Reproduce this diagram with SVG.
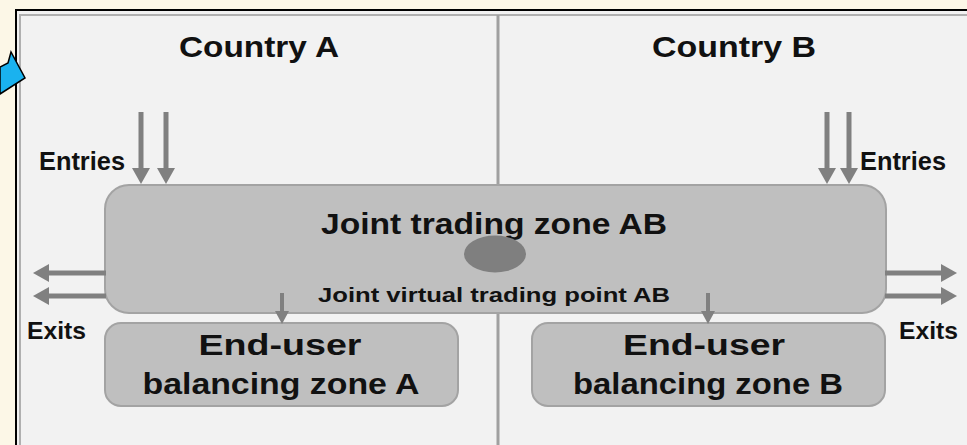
<svg xmlns="http://www.w3.org/2000/svg" width="967" height="445" viewBox="0 0 967 445">
  <defs>
    <style>
      .t { font-family: "Liberation Sans", Arial, sans-serif; font-weight: bold; fill: #111111; }
      .conn { stroke: #808080; fill: none; }
      .zone { fill: #bfbfbf; stroke: #a3a3a3; stroke-width: 2; }
    </style>
    <marker id="ah" markerUnits="userSpaceOnUse" markerWidth="16" markerHeight="18" refX="6" refY="9" orient="auto">
      <path d="M0,0 L16,9 L0,18 Z" fill="#808080"/>
    </marker>
    <marker id="ahs" markerUnits="userSpaceOnUse" markerWidth="13" markerHeight="14" refX="3" refY="7" orient="auto">
      <path d="M0,0 L13,7 L0,14 Z" fill="#808080"/>
    </marker>
  </defs>

  <rect x="0" y="0" width="967" height="445" fill="#fcf7e7"/>

  <g id="frame">
    <rect x="16" y="10" width="960" height="450" fill="#f2f2f2" stroke="#000" stroke-width="2"/>
    <rect x="20" y="15" width="955" height="440" fill="none" stroke="#b0b0b0" stroke-width="2"/>
    <line x1="498" y1="15" x2="498" y2="445" stroke="#a0a0a0" stroke-width="3"/>
  </g>

  <g id="pointer">
    <polygon points="0,67 8,63 11,52 25,78 0,94" fill="#1ab2ef" stroke="#000" stroke-width="1.5" stroke-linejoin="miter"/>
  </g>

  <g id="labels">
    <text class="t" x="259" y="57" font-size="30" text-anchor="middle" textLength="160" lengthAdjust="spacingAndGlyphs">Country A</text>
    <text class="t" x="734" y="57" font-size="30" text-anchor="middle" textLength="164" lengthAdjust="spacingAndGlyphs">Country B</text>
    <text class="t" x="39" y="170" font-size="25" textLength="86" lengthAdjust="spacingAndGlyphs">Entries</text>
    <text class="t" x="860" y="170" font-size="25" textLength="86" lengthAdjust="spacingAndGlyphs">Entries</text>
    <text class="t" x="27" y="339" font-size="24" textLength="59" lengthAdjust="spacingAndGlyphs">Exits</text>
    <text class="t" x="899" y="339" font-size="24" textLength="59" lengthAdjust="spacingAndGlyphs">Exits</text>
  </g>

  <g id="joint-zone">
    <rect class="zone" x="105" y="185" width="781" height="128" rx="24" ry="24"/>
    <text class="t" x="494" y="234" font-size="29" text-anchor="middle" textLength="346" lengthAdjust="spacingAndGlyphs">Joint trading zone AB</text>
  </g>

  <g id="virtual-trading-point">
    <ellipse cx="495" cy="254" rx="31" ry="18.5" fill="#7f7f7f"/>
    <text class="t" x="494" y="302" font-size="20" text-anchor="middle" textLength="352" lengthAdjust="spacingAndGlyphs">Joint virtual trading point AB</text>
  </g>

  <g id="balancing-zone-a">
    <rect class="zone" x="105" y="323" width="353" height="83" rx="16" ry="16"/>
    <text class="t" x="280" y="355" font-size="29" text-anchor="middle" textLength="163" lengthAdjust="spacingAndGlyphs">End-user</text>
    <text class="t" x="281" y="394" font-size="29" text-anchor="middle" textLength="277" lengthAdjust="spacingAndGlyphs">balancing zone A</text>
  </g>

  <g id="balancing-zone-b">
    <rect class="zone" x="532" y="323" width="353" height="83" rx="16" ry="16"/>
    <text class="t" x="704" y="355" font-size="29" text-anchor="middle" textLength="162" lengthAdjust="spacingAndGlyphs">End-user</text>
    <text class="t" x="708" y="394" font-size="29" text-anchor="middle" textLength="270" lengthAdjust="spacingAndGlyphs">balancing zone B</text>
  </g>

  <g id="connectors">
    <line class="conn" stroke-width="5" x1="141" y1="112" x2="141" y2="174" marker-end="url(#ah)"/>
    <line class="conn" stroke-width="5" x1="166" y1="112" x2="166" y2="174" marker-end="url(#ah)"/>
    <line class="conn" stroke-width="5" x1="827" y1="112" x2="827" y2="174" marker-end="url(#ah)"/>
    <line class="conn" stroke-width="5" x1="849" y1="112" x2="849" y2="174" marker-end="url(#ah)"/>
    <line class="conn" stroke-width="5" x1="106" y1="273" x2="43" y2="273" marker-end="url(#ah)"/>
    <line class="conn" stroke-width="5" x1="106" y1="296" x2="43" y2="296" marker-end="url(#ah)"/>
    <line class="conn" stroke-width="5" x1="885" y1="273" x2="947" y2="273" marker-end="url(#ah)"/>
    <line class="conn" stroke-width="5" x1="885" y1="296" x2="947" y2="296" marker-end="url(#ah)"/>
    <line class="conn" stroke-width="4" x1="282" y1="293" x2="282" y2="314" marker-end="url(#ahs)"/>
    <line class="conn" stroke-width="4" x1="708" y1="293" x2="708" y2="314" marker-end="url(#ahs)"/>
  </g>
</svg>
